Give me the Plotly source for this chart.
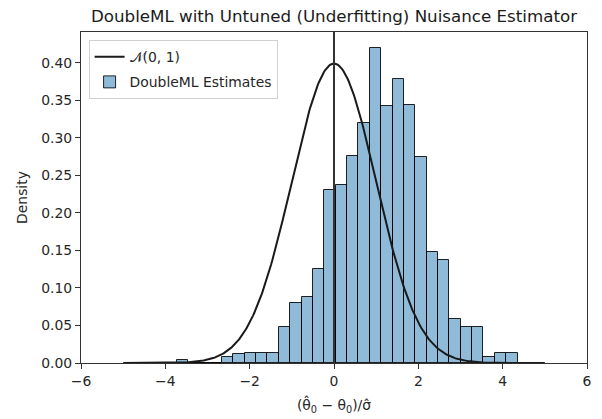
import numpy as np
import plotly.graph_objects as go

# Histogram data (density per bin)
bin_start = -3.734
bin_width = 0.2696
densities = [0.0037, 0.0, 0.0, 0.0, 0.0074, 0.0116, 0.0134, 0.0134, 0.0134,
             0.048, 0.080, 0.088, 0.125, 0.230, 0.237, 0.276, 0.320, 0.420,
             0.342, 0.379, 0.344, 0.275, 0.148, 0.137, 0.058, 0.048, 0.048,
             0.0074, 0.0134, 0.0134]
x_ticks = [-6, -4, -2, 0, 2, 4, 6]
y_ticks = [0.0, 0.05, 0.10, 0.15, 0.20, 0.25, 0.30, 0.35, 0.40]

centers = bin_start + bin_width * (np.arange(len(densities)) + 0.5)

xx = np.linspace(-5, 5, 400)
pdf = np.exp(-xx ** 2 / 2) / np.sqrt(2 * np.pi)

FS = 13.9

fig = go.Figure()
fig.add_trace(go.Bar(
    x=centers, y=densities, width=bin_width,
    marker=dict(color="rgba(31,119,180,0.5)", line=dict(color="rgba(0,0,0,0.85)", width=1)),
    name="DoubleML Estimates", legendrank=2, legendgroup="b",
))
fig.add_trace(go.Scatter(
    x=xx, y=pdf, mode="lines", line=dict(color="#1a1a1a", width=2),
    name="𝒩(0, 1)", legendrank=1, legendgroup="a",
))
fig.add_vline(x=0, line=dict(color="#333333", width=2), layer="above")

axis_common = dict(
    showline=True, linecolor="#333333", linewidth=1, mirror=True,
    ticks="outside", ticklen=5, tickcolor="#333333", tickwidth=1,
    showgrid=False, zeroline=False,
    tickfont=dict(family="DejaVu Sans", size=FS, color="#262626"),
)
fig.update_xaxes(range=[-6, 6], tickvals=x_ticks, **axis_common,
                 title=dict(text="(θ̂<sub>0</sub> − θ<sub>0</sub>)/σ̂",
                            font=dict(family="DejaVu Sans", size=FS, color="#262626"),
                            standoff=12))
fig.update_yaxes(range=[0, 0.441], tickvals=y_ticks, tickformat=".2f", **axis_common,
                 title=dict(text="Density",
                            font=dict(family="DejaVu Sans", size=FS, color="#262626"),
                            standoff=10))

fig.update_layout(
    width=602, height=419,
    margin=dict(l=81, r=15, t=32, b=56, autoexpand=False),
    plot_bgcolor="white", paper_bgcolor="white",
    bargap=0,
    title=dict(text="DoubleML with Untuned (Underfitting) Nuisance Estimator",
               font=dict(family="DejaVu Sans", size=16.7, color="#1a1a1a"),
               x=0.5, xref="paper", xanchor="center", y=0.962, yanchor="middle"),
    legend=dict(x=0.015, y=0.975, xanchor="left", yanchor="top",
                bgcolor="rgba(255,255,255,0.8)", bordercolor="#d0d0d0", borderwidth=1,
                tracegroupgap=4,
                font=dict(family="DejaVu Sans", size=FS, color="#262626")),
    showlegend=True,
)

fig.write_html("out.html", config={"displayModeBar": False},
               post_script="document.body.style.margin='0';document.body.style.padding='0';document.body.style.overflow='hidden';")
